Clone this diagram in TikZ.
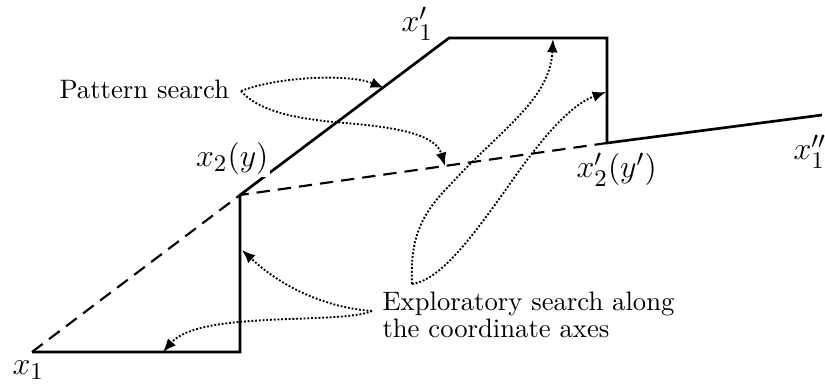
\documentclass[tikz,border=0pt]{standalone}
\usetikzlibrary{arrows.meta}
\begin{document}
\begin{tikzpicture}[x=0.375pt,y=-0.375pt,
  solidline/.style={line width=1pt, line join=miter},
  dashline/.style={line width=0.8pt, dash pattern=on 5pt off 3pt},
  dotarrow/.style={line width=0.7pt, dash pattern=on 0.7pt off 0.7pt, -{Latex[length=5pt,width=4pt]}},
  lbl/.style={inner sep=0pt, font=\fontsize{13}{15}\selectfont},
  txt/.style={inner sep=0pt, font=\fontsize{10}{10.1}\selectfont, align=left}]
\useasboundingbox (0,0) rectangle (825,390);
% path points
\coordinate (A) at (32,352);
\coordinate (B) at (240,352);
\coordinate (C) at (240,195);
\coordinate (D) at (449,38);
\coordinate (E) at (607,38);
\coordinate (F) at (607,143);
\coordinate (G) at (822,115);
% solid path
\draw[solidline] (A) -- (B) -- (C) -- (D) -- (E) -- (F) -- (G);
% dashed pattern moves
\draw[dashline] (A) -- (C) -- (F);
% labels
\node[lbl, anchor=base west] (lx1) at (12,375) {$x_1$};
\node[lbl, anchor=base west] (lx1p) at (401,32) {$x'_1$};
\node[lbl, anchor=base west, fill=white, inner sep=0.6pt] (lx2) at (194,167) {$x_2(y)$};
\node[lbl, anchor=base west] (lx2p) at (576,178) {$x'_2(y')$};
\node[lbl, anchor=base west] (lx1pp) at (793,160) {$x''_1$};
\node[txt, anchor=base west] (pat) at (59,99) {Pattern search};
\node[txt, anchor=north west] (exp) at (382,291.5) {Exploratory search along\\the coordinate axes};
% arrow start and end points
\coordinate (p0) at (241,91);
\coordinate (e1) at (372,311);
\coordinate (e2) at (412,284);
\coordinate (t1) at (384,88);
\coordinate (t2) at (445,166);
\coordinate (t3) at (242,250);
\coordinate (t4) at (163,352);
\coordinate (t5) at (553,39);
\coordinate (t6) at (606,92);
% pattern search arrows
\draw[dotarrow] (p0) .. controls (280,76) and (350,74) .. (t1);
\draw[dotarrow] (p0) .. controls (262,115) and (310,120) .. (345,123) .. controls (405,128) and (436,136) .. (t2);
% exploratory search arrows
\draw[dotarrow] (e1) .. controls (330,308) and (285,290) .. (t3);
\draw[dotarrow] (e1) .. controls (340,325) and (200,310) .. (t4);
\draw[dotarrow] (e2) .. controls (410,240) and (420,215) .. (450,185) .. controls (500,130) and (550,100) .. (t5);
\draw[dotarrow] (e2) .. controls (440,280) and (470,240) .. (507,188) .. controls (540,140) and (570,105) .. (t6);
\end{tikzpicture}
\end{document}
